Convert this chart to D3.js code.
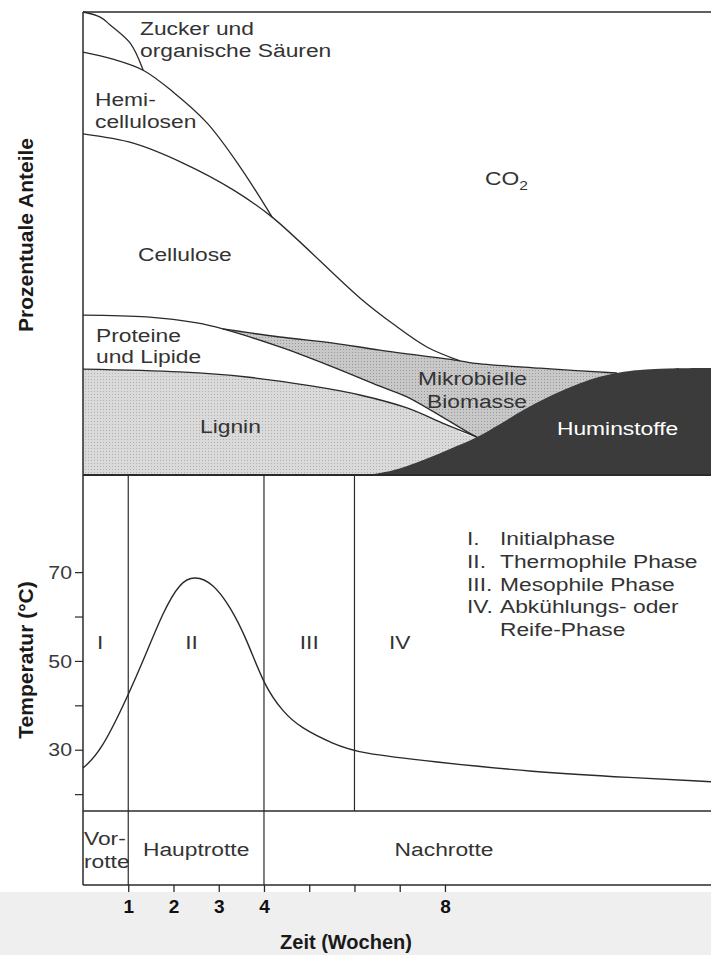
<!DOCTYPE html>
<html lang="de">
<head>
<meta charset="UTF-8">
<title>Kompostierung</title>
<script src="https://d3js.org/d3.v7.min.js"></script>
<style>
  body { margin: 0; background: #fff; }
  svg text { font-family: "Liberation Sans", Arial, sans-serif; }
</style>
</head>
<body>
<svg id="chart" width="711" height="955"></svg>
<script>
// --- values (weeks / percent of mass, cumulative from bottom) ---
const zuckerWeeks    = [0, 0.38, 0.6, 1.04, 1.33];
const zuckerPct      = [100, 98.9, 97.2, 93.3, 87.4];
const hemiWeeks      = [0, 0.66, 1.33, 1.99, 2.74, 3.47, 4.18];
const hemiPct        = [91.3, 89.8, 87.4, 82.7, 76.0, 66.5, 55.6];
const celluloseWeeks = [0, 1.11, 2.21, 3.32, 4.18, 6.12, 6.85, 7.6, 8.33];
const cellulosePct   = [73.6, 71.6, 67.3, 61.5, 55.6, 38.1, 32.5, 27.5, 24.5];
const mikroWeeks     = [3.09, 4.35, 5.53, 6.56, 8.33, 8.62, 10.1, 11.8];
const mikroPct       = [31.4, 29.65, 28.35, 26.8, 24.5, 24.0, 22.9, 21.86];
const proteinWeeks   = [0, 1.41, 2.52, 3.09, 4.35, 5.46, 6.56, 7.16, 8.62, 8.71];
const proteinPct     = [34.4, 34.0, 32.7, 31.4, 27.5, 23.4, 19.0, 16.7, 8.4, 8.0];
const ligninWeeks    = [0, 2.14, 3.62, 5.08, 6.12, 7.16, 8.0, 8.71];
const ligninPct      = [22.7, 22.1, 21.0, 19.0, 17.1, 14.3, 10.8, 8.0];
const humusWeeks     = [6.41, 6.96, 7.52, 8.11, 8.71, 9.22, 9.73, 10.28, 10.83, 11.32, 11.8, 12.31, 12.98, 13.88];
const humusPct       = [0, 1.08, 3.03, 5.41, 8.0, 10.82, 13.85, 16.67, 19.05, 20.78, 21.86, 22.51, 22.84, 22.94];

// temperature curve
const tempWeeks = [0, 0.38, 0.99, 1.41, 1.77, 2.14, 2.47, 2.87, 3.25, 3.62, 4.0, 4.42, 4.8, 5.53, 6.12, 7.73, 9.93, 12.14, 13.88];
const tempC     = [25.9, 29.3, 42.0, 52.0, 61.0, 67.7, 69.2, 67.5, 62.3, 54.9, 44.5, 38.5, 35.0, 31.3, 29.2, 27.3, 25.0, 23.7, 22.8];
const tempTicks   = [20, 30, 40, 50, 60, 70];
const tempLabeled = [30, 50, 70];

// phases
const phaseBounds     = [1, 4, 6];
const phaseLabels     = ["I", "II", "III", "IV"];
const phaseLabelWeeks = [0.38, 2.4, 5.0, 7.0];
const legendNums  = ["I.", "II.", "III.", "IV.", ""];
const legendNames = ["Initialphase", "Thermophile Phase", "Mesophile Phase", "Abkühlungs- oder", "Reife-Phase"];

// rotte band
const rotteBounds = [1, 4];
const weekTicks   = [1, 2, 3, 4, 5, 6, 7, 8];
const weekLabeled = [1, 2, 3, 4, 8];

const svg = d3.select("#chart");
const left = 83, right = 711;
const topY = 12, midY = 474, tempBottom = 811, axisY = 885;

const x = d3.scaleLinear().domain([0, 13.88]).range([left, right]);
const yPct = d3.scaleLinear().domain([0, 100]).range([midY, topY]);
const yT = d3.scaleLinear().domain([16.2, 92.1]).range([tempBottom, midY]);

const pts = (w, v) => w.map((d, i) => [d, v[i]]);
const zucker = pts(zuckerWeeks, zuckerPct);
const hemi = pts(hemiWeeks, hemiPct);
const cellulose = pts(celluloseWeeks, cellulosePct);
const mikro = pts(mikroWeeks, mikroPct);
const protein = pts(proteinWeeks, proteinPct);
const lignin = pts(ligninWeeks, ligninPct);
const humus = pts(humusWeeks, humusPct);
const temp = pts(tempWeeks, tempC);

// scanned-paper gray under the axis
svg.append("rect").attr("x", 0).attr("y", 892).attr("width", 711).attr("height", 63).attr("fill", "#efefef");

// stipple patterns
const defs = svg.append("defs");
function stipple(id, bg, dot) {
  const p = defs.append("pattern").attr("id", id).attr("patternUnits", "userSpaceOnUse")
    .attr("width", 3).attr("height", 3);
  p.append("rect").attr("width", 3).attr("height", 3).attr("fill", bg);
  p.append("rect").attr("x", 1).attr("y", 1).attr("width", 1).attr("height", 1).attr("fill", dot);
}
stipple("dotLight", "#dadada", "#b0b0b0");
stipple("dotMid", "#c8c8c8", "#989898");

const curve = d3.curveCatmullRom.alpha(0.5);
const line = d3.line().x(d => x(d[0])).y(d => yPct(d[1])).curve(curve);
const area = d3.area().x(d => x(d[0])).y0(midY).y1(d => yPct(d[1])).curve(curve);
const tailOf = (arr) => humus.filter(d => d[0] > arr[arr.length - 1][0] + 0.05);

const g = svg.append("g");
// painter's order: mikro gray, protein white, lignin gray, humus dark
g.append("path").datum(mikro.concat(tailOf(mikro))).attr("d", area).attr("fill", "url(#dotMid)");
g.append("path").datum(protein.concat(tailOf(protein))).attr("d", area).attr("fill", "#fff");
g.append("path").datum(lignin.concat(tailOf(lignin))).attr("d", area).attr("fill", "url(#dotLight)");
g.append("path").datum([[0, 0], [6.2, 0]].concat(humus)).attr("d", area).attr("fill", "#3b3b3b");

[zucker, hemi, cellulose, mikro, protein, lignin].forEach(c => {
  g.append("path").datum(c).attr("d", line)
    .attr("fill", "none").attr("stroke", "#2a2a2a").attr("stroke-width", 1.3);
});

// frame
const frame = svg.append("g").attr("stroke", "#2a2a2a").attr("fill", "none");
frame.append("line").attr("x1", left).attr("x2", right).attr("y1", topY).attr("y2", topY).attr("stroke-width", 1.3);
frame.append("line").attr("x1", left).attr("x2", right).attr("y1", midY + 1).attr("y2", midY + 1).attr("stroke-width", 2.2);
frame.append("line").attr("x1", left).attr("x2", right).attr("y1", tempBottom).attr("y2", tempBottom).attr("stroke-width", 1.5);
frame.append("line").attr("x1", left).attr("x2", left).attr("y1", topY).attr("y2", axisY).attr("stroke-width", 1.5);

// phase boundaries
phaseBounds.forEach(w => {
  frame.append("line").attr("x1", x(w)).attr("x2", x(w)).attr("y1", midY + 2)
    .attr("y2", rotteBounds.includes(w) ? axisY : tempBottom).attr("stroke-width", 1.2);
});

// temperature curve (B-spline smooths the hand-read points)
svg.append("path").datum(temp)
  .attr("d", d3.line().x(d => x(d[0])).y(d => yT(d[1])).curve(d3.curveBasis))
  .attr("fill", "none").attr("stroke", "#2a2a2a").attr("stroke-width", 1.4);

// axes
const yAxis = svg.append("g").attr("transform", `translate(${left},0)`)
  .call(d3.axisLeft(yT).tickValues(tempTicks).tickSize(8).tickPadding(3)
    .tickFormat(d => tempLabeled.includes(d) ? d : ""));
yAxis.select(".domain").remove();
yAxis.selectAll("line").attr("stroke", "#2a2a2a").attr("stroke-width", 1.2);
yAxis.selectAll("text").style("font-size", "19px").attr("fill", "#3a3a3a")
  .attr("transform", "scale(1.12,1)").attr("x", -11 / 1.12);

const xAxis = svg.append("g").attr("transform", `translate(0,${axisY})`)
  .call(d3.axisBottom(x).tickValues(weekTicks).tickSize(7).tickPadding(8)
    .tickFormat(d => weekLabeled.includes(d) ? d : ""));
xAxis.select(".domain").attr("d", `M${left},0H${right}`).attr("stroke", "#2a2a2a").attr("stroke-width", 1.6);
xAxis.selectAll("line").attr("stroke", "#2a2a2a").attr("stroke-width", 1.3);
xAxis.selectAll("text").style("font-size", "19px").style("font-weight", "bold").attr("fill", "#111");

// text helper
function label(px, py, txt, o = {}) {
  const t = svg.append("text")
    .attr("transform", `translate(${px},${py}) scale(${o.sx || 1.2},1)`)
    .attr("text-anchor", o.anchor || "start")
    .style("font-size", (o.size || 19) + "px")
    .attr("fill", o.fill || "#333")
    .text(txt);
  return t;
}

label(140, 35, "Zucker und");
label(140, 57, "organische Säuren");
label(95, 106, "Hemi-");
label(95, 128, "cellulosen");
label(138, 261, "Cellulose");
label(96, 342, "Proteine");
label(96, 363, "und Lipide");
label(200, 433, "Lignin");
label(418, 385, "Mikrobielle");
label(427, 408, "Biomasse");
label(557, 435, "Huminstoffe", { fill: "#fff" });
const co2 = label(485, 185, "CO");
co2.append("tspan").attr("dy", 5).style("font-size", "13px").text("2");

phaseLabels.forEach((p, i) => label(x(phaseLabelWeeks[i]), 649, p, { anchor: "middle" }));
legendNames.forEach((n, i) => {
  if (legendNums[i]) label(467, 545 + i * 22.8, legendNums[i]);
  label(500, 545 + i * 22.8, n);
});

label(84, 845, "Vor-");
label(84, 868, "rotte");
label((x(1) + x(4)) / 2, 856, "Hauptrotte", { anchor: "middle" });
label(444, 856, "Nachrotte", { anchor: "middle" });

// axis titles
svg.append("text").attr("transform", "translate(33,235) rotate(-90)")
  .attr("text-anchor", "middle").style("font-size", "21px").style("font-weight", "bold")
  .attr("fill", "#1a1a1a").text("Prozentuale Anteile");
svg.append("text").attr("transform", "translate(33,660) rotate(-90)")
  .attr("text-anchor", "middle").style("font-size", "21px").style("font-weight", "bold")
  .attr("fill", "#1a1a1a").text("Temperatur (°C)");
svg.append("text").attr("x", 346).attr("y", 949)
  .attr("text-anchor", "middle").style("font-size", "20px").style("font-weight", "bold")
  .attr("fill", "#1a1a1a").text("Zeit (Wochen)");
</script>
</body>
</html>
